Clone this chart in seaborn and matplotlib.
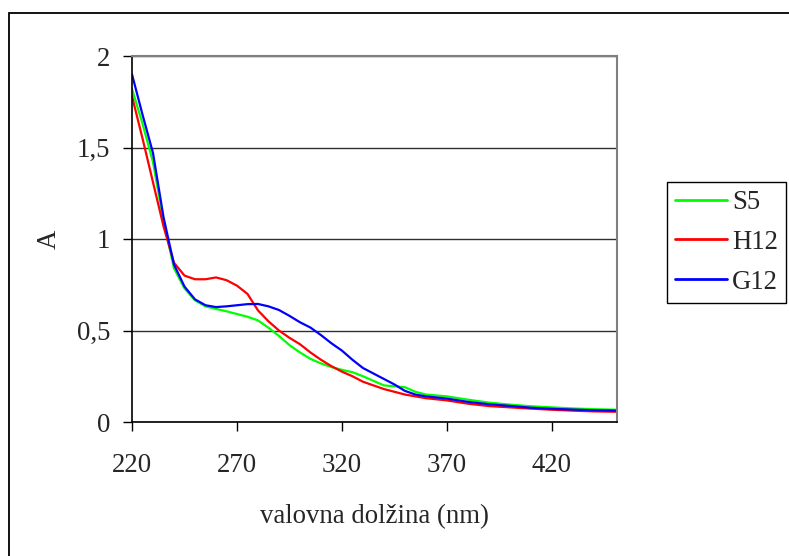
import pandas as pd
import numpy as np
import matplotlib
matplotlib.use('Agg')
import matplotlib.pyplot as plt
from matplotlib.patches import Rectangle
import seaborn as sns

# Absorbance spectra
wavelength = [220, 225, 230, 235, 240, 245, 250, 255, 260, 265, 270, 275, 280,
              285, 290, 295, 300, 305, 310, 315, 320, 325, 330, 335, 340, 345,
              350, 355, 360, 370, 380, 390, 400, 410, 420, 430, 440, 451]

s5 = [1.82, 1.63, 1.42, 1.10, 0.84, 0.73, 0.665, 0.632, 0.618, 0.605, 0.59, 0.575, 0.555,
      0.515, 0.47, 0.42, 0.38, 0.345, 0.32, 0.30, 0.285, 0.272, 0.25, 0.225, 0.20, 0.195,
      0.19, 0.165, 0.15, 0.14, 0.122, 0.106, 0.095, 0.086, 0.08, 0.074, 0.07, 0.067]

h12 = [1.78, 1.55, 1.31, 1.07, 0.87, 0.80, 0.78, 0.78, 0.79, 0.775, 0.745, 0.70, 0.61,
       0.55, 0.50, 0.46, 0.425, 0.38, 0.34, 0.305, 0.275, 0.25, 0.22, 0.20, 0.18, 0.165,
       0.15, 0.14, 0.13, 0.118, 0.10, 0.087, 0.08, 0.073, 0.067, 0.062, 0.058, 0.056]

g12 = [1.90, 1.68, 1.47, 1.12, 0.86, 0.74, 0.67, 0.638, 0.628, 0.632, 0.638, 0.644, 0.645,
       0.632, 0.612, 0.58, 0.545, 0.516, 0.475, 0.43, 0.39, 0.34, 0.295, 0.265, 0.235, 0.205,
       0.17, 0.15, 0.14, 0.128, 0.11, 0.097, 0.088, 0.078, 0.072, 0.068, 0.064, 0.062]

series = {'S5': s5, 'H12': h12, 'G12': g12}
colors = {'S5': '#00FF00', 'H12': '#FF0000', 'G12': '#0000FF'}

yticks = [0, 0.5, 1, 1.5, 2]
ytick_labels = ['0', '0,5', '1', '1,5', '2']
xticks = [220, 270, 320, 370, 420]

sns.set_theme(style='white')
plt.rcParams['font.family'] = ['Liberation Serif', 'DejaVu Serif']
plt.rcParams['font.size'] = 19

W, H = 789, 556
fig = plt.figure(figsize=(W / 100, H / 100), dpi=100)
fig.patch.set_facecolor('white')
ax = fig.add_axes([132 / W, 1 - 422 / H, 485 / W, 366 / H])

for name, vals in series.items():
    df = pd.DataFrame({'wl': wavelength, 'A': vals})
    sns.lineplot(data=df, x='wl', y='A', color=colors[name], lw=1.6, label=name, ax=ax)

ax.set_xlim(220, 451)
ax.set_ylim(0, 2)
ax.set_xticks(xticks)
ax.set_yticks(yticks)
ax.set_yticklabels(ytick_labels)
ax.yaxis.grid(True, color='#303030', lw=1)
ax.xaxis.grid(False)

ax.tick_params(axis='both', direction='out', length=6.5, width=1, color='black',
               labelsize=19.3, bottom=True, left=True)
ax.tick_params(axis='y', pad=9)
ax.tick_params(axis='x', pad=15.5)

for side in ['top', 'right']:
    ax.spines[side].set_color('#808080')
    ax.spines[side].set_linewidth(1.5)
for side in ['left', 'bottom']:
    ax.spines[side].set_color('black')
    ax.spines[side].set_linewidth(1.2)

ax.set_xlabel('valovna dolžina (nm)', fontsize=19.3)
ax.set_ylabel('A', fontsize=19.3)
ax.xaxis.set_label_coords(0.5, -0.225)
ax.yaxis.set_label_coords(-0.145, 0.5)

leg = ax.legend(loc='upper left', bbox_to_anchor=(667 / W, 1 - 182 / H),
                bbox_transform=fig.transFigure, frameon=True, fancybox=False,
                edgecolor='black', framealpha=1, fontsize=19.3, handlelength=1.93,
                handletextpad=0.2, labelspacing=0.55, borderpad=0.3, borderaxespad=0)
leg.get_frame().set_linewidth(1)
for line in leg.get_lines():
    line.set_linewidth(2)

# outer chart border (right and bottom edges fall outside the image)
fig.add_artist(Rectangle((9 / W, -0.1), 1.2, 1 - 13 / H + 0.1, transform=fig.transFigure,
                         fill=False, edgecolor='black', lw=1.3))

plt.savefig('out.png', dpi=100)
